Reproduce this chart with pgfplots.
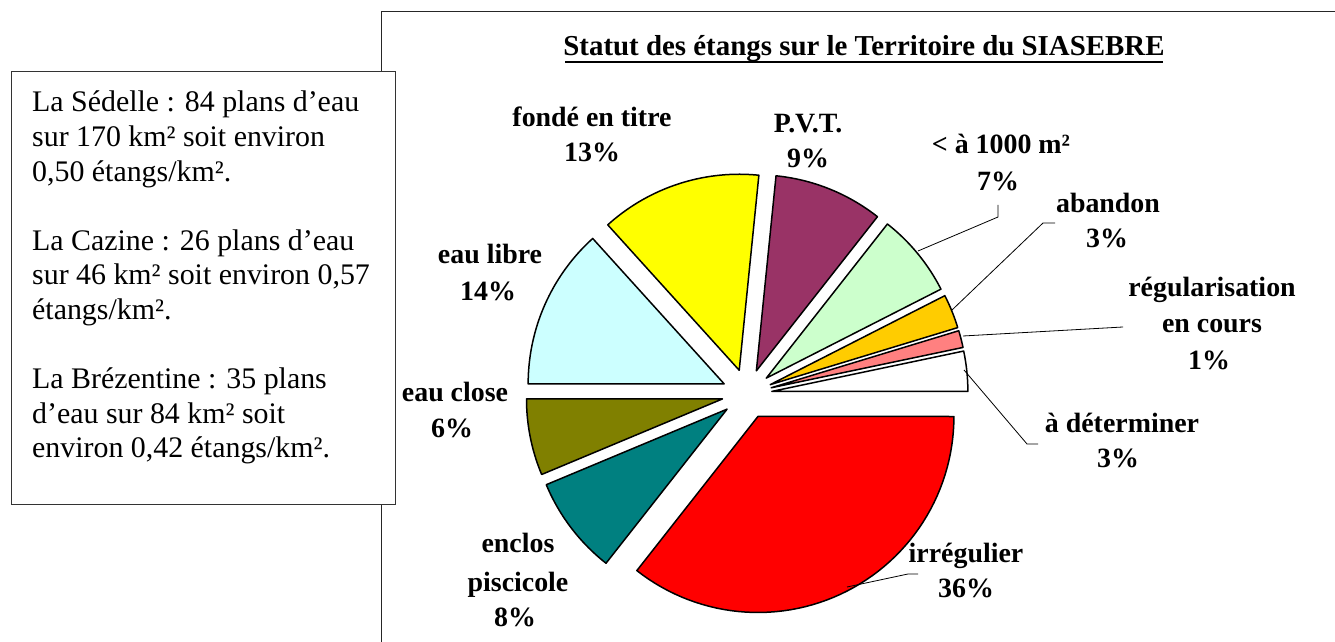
\documentclass[border=0pt]{standalone}
\usepackage{fontspec}
\setmainfont{Liberation Serif}
\usepackage{pgfplots}
\pgfplotsset{compat=1.18}
\usepackage{pgfplotstable}

\definecolor{cWhite}{HTML}{FFFFFF}
\definecolor{cPink}{HTML}{FF8080}
\definecolor{cOrange}{HTML}{FFCC00}
\definecolor{cGreen}{HTML}{CCFFCC}
\definecolor{cPurple}{HTML}{993366}
\definecolor{cYellow}{HTML}{FFFF00}
\definecolor{cCyan}{HTML}{CCFFFF}
\definecolor{cOlive}{HTML}{808000}
\definecolor{cTeal}{HTML}{008080}
\definecolor{cRed}{HTML}{FF0000}

% share of each status (percent), counter-clockwise from 3 o'clock
\pgfplotstableread{
label pct col
adeterminer 3.3 cWhite
regularisation 1.4 cPink
abandon 2.8 cOrange
moins1000 6.9 cGreen
PVT 9.0 cPurple
fonde 13.3 cYellow
eaulibre 13.3 cCyan
eauclose 6.3 cOlive
enclos 8.1 cTeal
irregulier 35.6 cRed
}\pietable

\begin{document}
\begin{tikzpicture}
\path[use as bounding box] (0,0) rectangle (1335bp,642bp);
\begin{axis}[at={(0,0)}, anchor=south west, width=1335bp, height=642bp,
  scale only axis, xmin=0, xmax=1335, ymin=0, ymax=642, hide axis, clip=false]
% chart frame
\draw[line width=1bp, black!85] (381.5,0) -- (381.5,630) -- (1340,630);
% pie slices
\def\cumul{0}
\pgfplotsforeachungrouped \i in {0,...,9}{%
  \pgfplotstablegetelem{\i}{pct}\of\pietable \let\pct\pgfplotsretval
  \pgfplotstablegetelem{\i}{col}\of\pietable \let\col\pgfplotsretval
  \pgfmathsetmacro\sa{\cumul*3.6}%
  \pgfmathsetmacro\sb{(\cumul+\pct)*3.6}%
  \pgfmathsetmacro\sm{(\sa+\sb)/2}%
  \pgfmathsetmacro\apx{747+25*cos(\sm)}%
  \pgfmathsetmacro\apy{248+25*sin(\sm)}%
  \edef\temp{\noexpand\addplot[fill=\col, draw=black, line width=1.5bp, line join=round, domain=\sa:\sb, samples=60]
    ({\apx+196*cos(x)},{\apy+196*sin(x)}) -- (axis cs:\apx,\apy) -- cycle;}%
  \temp
  \pgfmathsetmacro\cumul{\cumul+\pct}%
}
% leader lines
\draw[line width=0.8bp] (998,437) -- (998,425) -- (918,391);
\draw[line width=0.8bp] (1055,419) -- (1043,419) -- (952,332);
\draw[line width=0.8bp] (1123,315) -- (963,306);
\draw[line width=0.8bp] (1038,198) -- (1027,198) -- (964,272);
\draw[line width=0.8bp] (918,68) -- (908,68) -- (847,55);
% title
\node[anchor=base, inner sep=0pt, font=\fontsize{29}{34}\selectfont\bfseries] at (864,586) {Statut des étangs sur le Territoire du SIASEBRE};
\draw[line width=2bp] (565,580) -- (1163,580);
% slice labels
\begin{scope}[every node/.style={anchor=base, inner sep=0pt, font=\fontsize{28}{34}\selectfont\bfseries}]
\node at (592,515) {fondé en titre}; \node at (592,480) {13\%};
\node at (808,509) {P.V.T.}; \node at (808,474) {9\%};
\node at (1001,488) {< à 1000 m²}; \node at (998,451) {7\%};
\node at (1108,429) {abandon}; \node at (1107,394) {3\%};
\node at (1212,345) {régularisation}; \node at (1212,309) {en cours}; \node at (1209,272) {1\%};
\node at (1122,209) {à déterminer}; \node at (1118,174) {3\%};
\node at (490,378) {eau libre}; \node at (488,341) {14\%};
\node at (455,240) {eau close}; \node at (452,204) {6\%};
\node at (518,89) {enclos}; \node at (518,50) {piscicole}; \node at (515,16) {8\%};
\node at (966,79) {irrégulier}; \node at (966,44) {36\%};
\end{scope}
% side text box
\filldraw[fill=white, draw=black!80, line width=1bp] (11,570) rectangle (395,137);
\begin{scope}[every node/.style={anchor=base west, inner sep=0pt, font=\fontsize{30}{34}\selectfont}]
\node at (32,530) {La Sédelle : 84 plans d’eau};
\node at (32,495.4) {sur 170 km² soit environ};
\node at (32,460.8) {0,50 étangs/km².};
\node at (32,391.6) {La Cazine : 26 plans d’eau};
\node at (32,357) {sur 46 km² soit environ 0,57};
\node at (32,322.4) {étangs/km².};
\node at (32,253.2) {La Brézentine : 35 plans};
\node at (32,218.6) {d’eau sur 84 km² soit};
\node at (32,184) {environ 0,42 étangs/km².};
\end{scope}
\end{axis}
\end{tikzpicture}
\end{document}
